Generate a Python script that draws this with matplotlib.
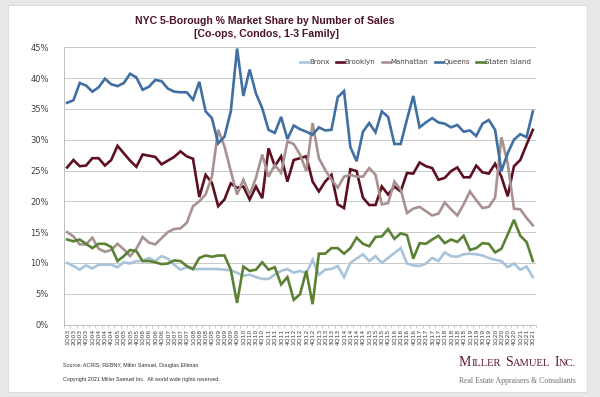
#!/usr/bin/env python3

import matplotlib

matplotlib.use("Agg")
from matplotlib import pyplot as plt
from matplotlib.patches import Rectangle
from matplotlib.ticker import FixedLocator, FuncFormatter

out_filename = "out.png"

quarters = [f"{q}Q{y % 100:02d}" for y in range(2003, 2022) for q in range(1, 5)][:75]

bronx = [
    10.0, 9.5, 8.9, 9.6, 9.1, 9.7, 9.7, 9.7, 9.3, 10.1, 9.9, 10.3, 10.3, 10.8, 10.3,
    11.1, 10.7, 9.7, 8.9, 9.3, 9.0, 9.0, 9.0, 9.0, 9.0, 8.9, 8.8, 8.4, 7.9, 8.1,
    7.7, 7.4, 7.4, 8.1, 8.7, 9.0, 8.4, 8.7, 8.3, 10.5, 8.1, 8.9, 9.0, 9.5, 7.7,
    10.0, 10.7, 11.4, 10.3, 11.1, 10.0, 10.8, 11.6, 12.4, 9.9, 9.6, 9.5, 9.9, 10.8, 10.3,
    11.7, 11.1, 11.0, 11.4, 11.5, 11.4, 11.2, 10.8, 10.5, 10.3, 9.3, 9.9, 8.9, 9.4, 7.7,
]
brooklyn = [
    25.5, 26.7, 25.7, 25.8, 27.0, 27.0, 25.8, 26.7, 29.0, 27.8, 26.6, 25.6, 27.6, 27.4, 27.2,
    26.0, 26.6, 27.2, 28.1, 27.3, 26.9, 20.7, 24.3, 23.0, 19.2, 20.3, 22.9, 22.2, 22.4, 20.3,
    22.4, 20.5, 28.6, 25.7, 27.3, 23.2, 26.7, 27.0, 27.3, 23.2, 21.6, 23.2, 24.3, 19.5, 18.9,
    25.2, 24.9, 20.6, 19.4, 19.4, 22.4, 21.1, 22.4, 21.6, 24.6, 24.5, 26.3, 25.7, 25.4, 23.5,
    23.8, 24.9, 25.5, 23.9, 23.9, 25.8, 24.7, 24.5, 26.1, 24.0, 20.8, 25.7, 26.7, 29.2, 31.6,
]
manhattan = [
    15.0, 14.3, 13.0, 13.0, 14.1, 12.3, 11.8, 12.1, 13.1, 12.2, 11.1, 12.3, 14.2, 13.3, 13.0,
    14.0, 15.0, 15.5, 15.6, 16.5, 19.2, 20.0, 21.1, 24.0, 31.6, 28.9, 24.9, 21.1, 23.5, 21.1,
    23.8, 27.6, 24.0, 25.9, 24.6, 29.7, 29.3, 27.6, 24.9, 32.7, 27.0, 25.1, 23.5, 22.2, 24.0,
    24.3, 24.0, 24.0, 25.4, 24.3, 19.5, 19.7, 23.2, 21.9, 18.1, 18.8, 19.1, 18.4, 17.7, 18.0,
    19.8, 18.7, 17.7, 19.5, 21.6, 20.2, 18.9, 19.1, 20.6, 30.4, 26.2, 18.8, 18.7, 17.3, 16.1,
]
queens = [
    36.0, 36.4, 39.2, 38.8, 37.8, 38.5, 39.9, 39.0, 38.7, 39.2, 40.7, 40.1, 38.1, 38.6, 39.7,
    39.5, 38.3, 37.8, 37.7, 37.7, 36.5, 39.4, 34.6, 33.5, 29.4, 30.5, 34.6, 44.8, 37.1, 41.4,
    37.5, 35.1, 31.6, 31.1, 33.7, 30.1, 32.3, 31.7, 31.3, 30.8, 32.0, 31.5, 31.6, 36.9, 37.9,
    28.8, 26.5, 31.3, 32.7, 31.2, 34.6, 33.7, 29.3, 29.3, 33.3, 37.1, 32.0, 32.8, 33.5, 32.8,
    32.6, 32.0, 32.4, 31.3, 31.5, 30.6, 32.6, 33.2, 31.6, 24.9, 27.8, 30.0, 30.9, 30.4, 34.6,
]
staten_island = [
    13.8, 13.5, 13.8, 13.1, 12.4, 13.1, 13.1, 12.6, 10.3, 11.1, 12.1, 11.9, 10.3, 10.3, 10.1,
    9.8, 9.9, 10.4, 10.3, 9.5, 9.0, 10.8, 11.2, 11.0, 11.2, 11.2, 8.9, 3.5, 9.4, 8.7,
    8.9, 10.1, 8.9, 9.3, 6.5, 7.7, 4.0, 4.9, 8.7, 3.3, 11.5, 11.5, 12.4, 12.4, 11.5,
    12.4, 14.1, 13.1, 12.7, 14.2, 14.3, 15.5, 13.9, 14.8, 14.5, 10.7, 13.2, 13.1, 13.8, 14.4,
    13.2, 13.8, 13.4, 14.4, 12.1, 12.4, 13.2, 13.1, 11.7, 12.3, 14.6, 17.0, 14.4, 13.4, 10.3,
]

series_names = ["Bronx", "Brooklyn", "Manhattan", "Queens", "Staten Island"]
series_colors = ["#a9c3da", "#5d0f20", "#a89290", "#3f6fa3", "#5b8134"]

title_color = "#4e1423"
logo_color = "#5e1a2a"


def small_caps(fig, x0, y0, text, big, small, color):
    # place text piece by piece in pixel units, first letter of each word bigger
    r = fig.canvas.get_renderer()
    W, H = fig.bbox.width, fig.bbox.height
    x = x0
    for word in text.split(" "):
        for piece, size in [(word[0], big), (word[1:].upper(), small)]:
            if not piece:
                continue
            t = fig.text(
                x / W, y0 / H, piece, fontsize=size, color=color,
                family="Liberation Serif", va="baseline", ha="left",
            )
            x += t.get_window_extent(r).width + 0.3
        x += big * 0.26 * fig.dpi / 72


def main():
    fig = plt.figure(figsize=(6.0, 3.97), dpi=100)
    fig.patch.set_facecolor("#e8e8e8")
    fig.patches.append(
        Rectangle(
            (8 / 600, 5 / 397), 579 / 600, 387 / 397,
            transform=fig.transFigure, facecolor="white", edgecolor="#d8d8d8",
            linewidth=0.6, zorder=-5,
        )
    )

    ax = fig.add_axes([64 / 600, 72.5 / 397, 472 / 600, 277.2 / 397])
    ax.set_facecolor("none")
    ax.set_zorder(2)

    xs = list(range(len(quarters)))
    for name, vals, color in zip(
        series_names, [bronx, brooklyn, manhattan, queens, staten_island], series_colors
    ):
        ax.plot(xs, vals, color=color, linewidth=1.9, label=name,
                solid_joinstyle="miter", zorder=3)

    ax.set_xlim(-0.5, len(quarters) - 0.5)
    ax.set_ylim(0, 45)
    ax.set_yticks(range(0, 50, 5))
    ax.yaxis.set_major_formatter(FuncFormatter(lambda v, _: f"{v:.0f}%"))
    ax.grid(axis="y", color="#c9c9c9", linewidth=0.7, zorder=0)
    ax.set_axisbelow(True)
    ax.tick_params(axis="y", length=0, pad=11, labelsize=6, labelcolor="#404040")

    ax.set_xticks(xs)
    ax.set_xticklabels(quarters, rotation=90, fontsize=4.3, color="#404040")
    ax.tick_params(axis="x", which="major", length=0, pad=3)
    ax.xaxis.set_minor_locator(FixedLocator([i - 0.5 for i in range(len(quarters) + 1)]))
    ax.tick_params(axis="x", which="minor", length=2.5, width=0.5, color="#bfbfbf")

    for side in ["top", "right"]:
        ax.spines[side].set_visible(False)
    for side in ["left", "bottom"]:
        ax.spines[side].set_color("#bfbfbf")
        ax.spines[side].set_linewidth(0.7)

    ax.legend(
        loc="center",
        bbox_to_anchor=(0.745, 0.947),
        ncol=5,
        frameon=False,
        fontsize=5.0,
        handlelength=1.2,
        handletextpad=0.1,
        columnspacing=0.9,
        labelcolor="#404040",
    )

    fig.text(
        265 / 600, 1 - 21 / 397, "NYC 5-Borough % Market Share by Number of Sales",
        ha="center", va="center", fontsize=7.6, fontweight="bold",
        color=title_color, family="Liberation Sans",
    )
    fig.text(
        266 / 600, 1 - 34 / 397, "[Co-ops, Condos, 1-3 Family]",
        ha="center", va="center", fontsize=7.6, fontweight="bold",
        color=title_color, family="Liberation Sans",
    )

    fig.text(
        63 / 600, 1 - 366 / 397, "Source: ACRIS, REBNY, Miller Samuel, Douglas Elliman",
        ha="left", va="center", fontsize=3.9, color="#303030", family="Liberation Sans",
    )
    fig.text(
        63 / 600, 1 - 379 / 397,
        "Copyright 2021 Miller Samuel Inc.  All world wide rights reserved.",
        ha="left", va="center", fontsize=3.9, color="#303030", family="Liberation Sans",
    )

    small_caps(fig, 459, 397 - 366, "Miller Samuel Inc.", 10.0, 7.6, logo_color)
    fig.text(
        459 / 600, 1 - 381 / 397, "Real Estate Appraisers & Consultants",
        ha="left", va="center", fontsize=5.6, color="#6f6f6f", family="Liberation Serif",
    )

    fig.savefig(out_filename, dpi=100, facecolor=fig.get_facecolor())


if __name__ == "__main__":
    main()
